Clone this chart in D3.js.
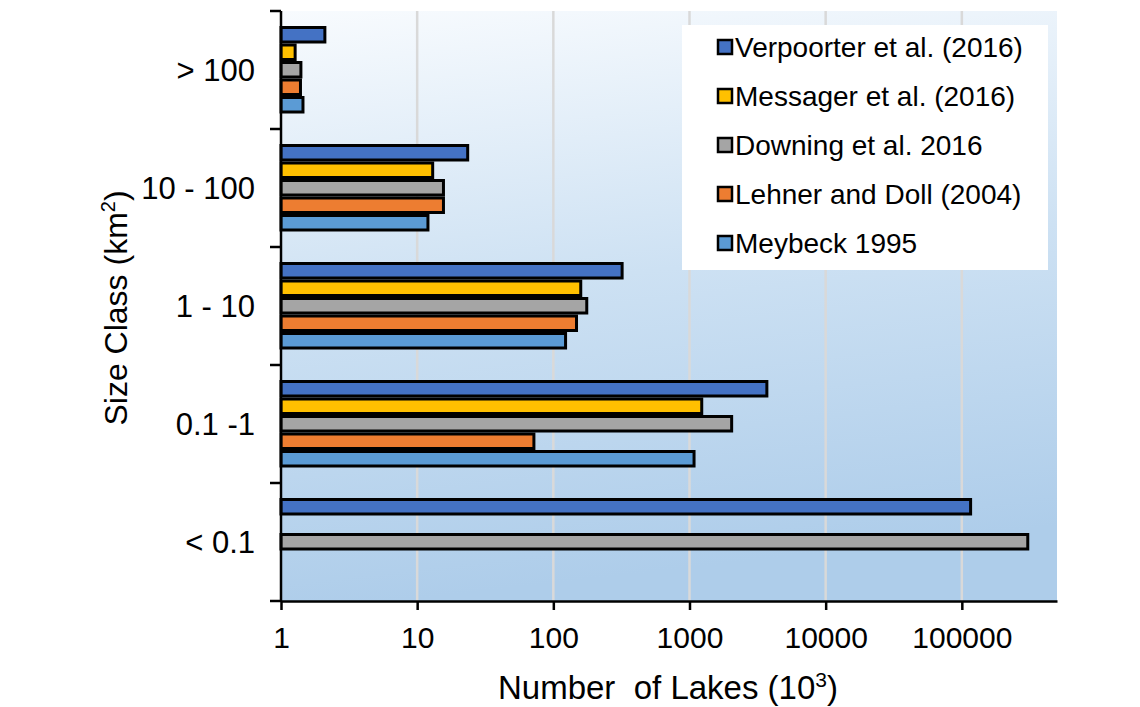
<!DOCTYPE html>
<html>
<head>
<meta charset="utf-8">
<script src="https://cdn.jsdelivr.net/npm/d3@7"></script>
<style>
  body { margin: 0; background: #fff; }
  text { font-family: "Liberation Sans", Arial, sans-serif; fill: #000; }
</style>
</head>
<body>
<div class="chart"></div>
<script>
// size classes, top to bottom
var categories = ["> 100", "10 - 100", "1 - 10", "0.1 -1", "< 0.1"];
var seriesNames = ["Verpoorter et al. (2016)", "Messager et al. (2016)", "Downing et al. 2016",
                   "Lehner and Doll (2004)", "Meybeck 1995"];
var seriesColors = ["#4472c4", "#ffc000", "#a5a5a5", "#ed7d31", "#5b9bd5"];
// number of lakes (10^3), one array per series, in category order; null = no bar
var verpoorter = [2.1, 23.5, 320, 3700, 116000];
var messager   = [1.27, 13, 159, 1230, null];
var downing    = [1.4, 15.6, 176, 2040, 305000];
var lehner     = [1.39, 15.6, 148, 72, null];
var meybeck    = [1.45, 12, 123, 1080, null];
var seriesValues = [verpoorter, messager, downing, lehner, meybeck];
var xTicks = [1, 10, 100, 1000, 10000, 100000];

var W = 1140, H = 707;
var mLeft = 281, mTop = 11, plotW = 776, plotH = 590;

var svg = d3.select(".chart").append("svg")
    .attr("width", W)
    .attr("height", H);

var grad = svg.append("defs").append("linearGradient")
    .attr("id", "bg").attr("x1", 0).attr("y1", 0).attr("x2", 0.15).attr("y2", 1);
grad.append("stop").attr("offset", "0%").attr("stop-color", "#f8fbfe");
grad.append("stop").attr("offset", "50%").attr("stop-color", "#cde1f3");
grad.append("stop").attr("offset", "100%").attr("stop-color", "#aecdea");

var g = svg.append("g").attr("transform", "translate(" + mLeft + "," + mTop + ")");

var x = d3.scaleLog().domain([1, 500000]).range([0, plotW]);
var y = d3.scaleBand().domain(categories).range([0, plotH]);
var inner = d3.scaleBand().domain(d3.range(seriesNames.length)).range([15, 102.5]);

g.append("rect")
    .attr("width", plotW)
    .attr("height", plotH)
    .attr("fill", "url(#bg)");

// vertical gridlines
g.selectAll("line.grid")
    .data(xTicks.slice(1))
    .enter()
    .append("line")
    .attr("class", "grid")
    .attr("x1", function (d) { return x(d); })
    .attr("x2", function (d) { return x(d); })
    .attr("y1", 0)
    .attr("y2", plotH)
    .attr("stroke", "#d9d9d9")
    .attr("stroke-width", 2.5);

// bars
var bars = [];
categories.forEach(function (c, ci) {
    seriesValues.forEach(function (vals, si) {
        if (vals[ci] != null) bars.push({ cat: c, s: si, v: vals[ci] });
    });
});

var sw = 3;
g.selectAll("rect.bar")
    .data(bars)
    .enter()
    .append("rect")
    .attr("class", "bar")
    .attr("x", x(1))
    .attr("y", function (d) { return y(d.cat) + inner(d.s) + sw / 2; })
    .attr("width", function (d) { return x(d.v) - x(1); })
    .attr("height", inner.bandwidth() - sw)
    .attr("fill", function (d) { return seriesColors[d.s]; })
    .attr("stroke", "#000")
    .attr("stroke-width", sw);

// axes
var xAxis = d3.axisBottom(x).tickValues(xTicks).tickSize(9).tickSizeOuter(0)
    .tickFormat(d3.format("d"));
var gx = g.append("g").attr("transform", "translate(0," + plotH + ")").call(xAxis);
gx.select(".domain").attr("stroke-width", 2.5);
gx.selectAll(".tick line").attr("stroke-width", 2.5);
gx.selectAll(".tick text")
    .attr("y", 47)
    .attr("dy", 0)
    .style("font-size", "30px")
    .style("font-family", "'Liberation Sans', Arial, sans-serif");

var yEdges = categories.map(function (c) { return y(c); }).concat([plotH]);
g.append("line")
    .attr("x1", 0).attr("x2", 0).attr("y1", 0).attr("y2", plotH + 1)
    .attr("stroke", "#000").attr("stroke-width", 2.5);
g.selectAll("line.ytick")
    .data(yEdges)
    .enter()
    .append("line")
    .attr("class", "ytick")
    .attr("x1", -11).attr("x2", 0)
    .attr("y1", function (d) { return d; })
    .attr("y2", function (d) { return d; })
    .attr("stroke", "#000")
    .attr("stroke-width", 2.5);

g.selectAll("text.ylab")
    .data(categories)
    .enter()
    .append("text")
    .attr("class", "ylab")
    .attr("x", -26)
    .attr("y", function (d) { return y(d) + y.bandwidth() / 2; })
    .attr("dy", "0.36em")
    .attr("text-anchor", "end")
    .style("font-size", "31px")
    .text(function (d) { return d; });

// axis titles
var xt = svg.append("text")
    .attr("x", 668)
    .attr("y", 699)
    .attr("text-anchor", "middle")
    .style("font-size", "33px")
    .style("white-space", "pre");
xt.append("tspan").text("Number  of Lakes (10");
xt.append("tspan").attr("dy", -12).style("font-size", "21px").text("3");
xt.append("tspan").attr("dy", 12).text(")");

var yt = svg.append("text")
    .attr("transform", "translate(127,308) rotate(-90)")
    .attr("text-anchor", "middle")
    .style("font-size", "32px");
yt.append("tspan").text("Size Class (km");
yt.append("tspan").attr("dy", -12).style("font-size", "20px").text("2");
yt.append("tspan").attr("dy", 12).text(")");

// legend
var lg = svg.append("g").attr("transform", "translate(682,25)");
lg.append("rect").attr("width", 366).attr("height", 245).attr("fill", "#fff");
var item = lg.selectAll("g.item")
    .data(seriesNames)
    .enter()
    .append("g")
    .attr("class", "item")
    .attr("transform", function (d, i) { return "translate(0," + (22 + i * 49) + ")"; });
item.append("rect")
    .attr("x", 36).attr("y", -7)
    .attr("width", 14).attr("height", 14)
    .attr("fill", function (d, i) { return seriesColors[i]; })
    .attr("stroke", "#000").attr("stroke-width", 2.5);
item.append("text")
    .attr("x", 53)
    .attr("dy", "0.36em")
    .style("font-size", "28px")
    .text(function (d) { return d; });
</script>
</body>
</html>
